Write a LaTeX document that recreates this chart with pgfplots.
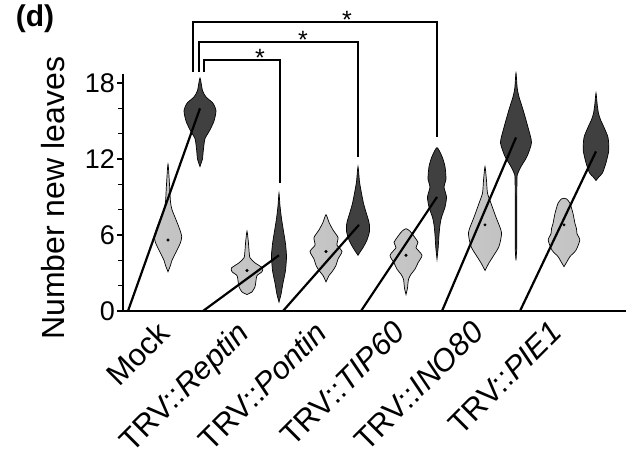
\documentclass[border=0pt]{standalone}
\usepackage{pgfplots}
\pgfplotsset{compat=1.18}
\usepackage{fontspec}
\setmainfont{Liberation Sans}
\newcommand{\fsA}{\fontsize{27}{32}\selectfont}
\newcommand{\fsS}{\fontsize{25}{30}\selectfont}
\newcommand{\fsB}{\fontsize{32}{38}\selectfont}
\newcommand{\fsD}{\fontsize{30}{36}\selectfont}
\newcommand{\fsC}{\fontsize{31}{36}\selectfont}
\begin{document}
\begin{tikzpicture}
\useasboundingbox (-123pt,-143pt) rectangle (503pt,311pt);
\begin{axis}[
  at={(0pt,0pt)}, anchor=south west,
  x=1pt, y=12.667pt,
  xmin=0, xmax=503, ymin=0, ymax=18.7,
  axis lines=left,
  axis line style={line width=1.6pt, -},
  clip=false,
  ytick={0,6,12,18},
  minor ytick={2,4,8,10,14,16},
  ytick align=outside,
  major tick length=6pt, minor tick length=5pt,
  every tick/.style={line width=1.3pt, black},
  yticklabel style={font=\fsA, inner sep=2pt},
  /pgf/number format/assume math mode=true,
  xtick={33,111.5,190,268.5,347,425.5},
  xticklabels={Mock, TRV::\textit{Reptin}, TRV::\textit{Pontin}, TRV::\textit{TIP60}, TRV::\textit{INO80}, TRV::\textit{PIE1}},
  x tick style={draw=none},
  xticklabel style={font=\fsC, rotate=45, anchor=north east, inner sep=0pt},
  xticklabel shift=5pt,
  ylabel={Number new leaves},
  every axis y label/.style={at={(axis cs:-70,8.9)}, rotate=90, anchor=center, font=\fsB},
  light/.style={draw=black, line width=0.7pt, left color=black!22, middle color=white, right color=black!24, smooth, tension=0.4},
  dark/.style={draw=black, line width=0.7pt, left color=black!75, middle color=black!55, right color=black!75, smooth, tension=0.4},
]
% Mock
\addplot[light] coordinates {(45,3.1)(42.5,3.6)(41,4.0)(36,4.8)(32.5,5.4)(31.3,5.9)(34,6.6)(38,7.4)(41,8.0)(42.5,8.6)(43.5,10)(45,11.6)
  (46.5,10)(47.5,8.6)(49,8.0)(52,7.4)(56,6.6)(58.7,5.9)(57.5,5.4)(54,4.8)(49,4.0)(47.5,3.6)} --cycle;
\addplot[dark] coordinates {(77,11.4)(74.5,12.0)(73.5,12.8)(72,13.6)(67,14.3)(63,15.0)(61,15.8)(64,16.4)(71,16.9)(74.5,17.4)(77,18.4)
  (79.5,17.4)(83,16.9)(90,16.4)(93,15.8)(91,15.0)(87,14.3)(82,13.6)(80.5,12.8)(79.5,12.0)} --cycle;
% Reptin
\addplot[light] coordinates {(124,1.3)(119,1.5)(116,1.9)(115,2.4)(114,2.8)(109,3.1)(108.5,3.4)(116,3.8)(121,4.2)(122,4.8)(122.7,5.5)(124,6.3)
  (125.3,5.5)(126,4.8)(127,4.2)(132,3.8)(139.5,3.4)(139,3.1)(134,2.8)(133,2.4)(132,1.9)(129,1.5)} --cycle;
\addplot[dark] coordinates {(156,0.7)(154,1.3)(152,2.2)(149.5,3.2)(148.5,4.3)(149.5,5.3)(151.5,6.3)(153.5,7.3)(155,8.3)(156,9.3)
  (157,8.3)(158.5,7.3)(160.5,6.3)(162.5,5.3)(163.5,4.3)(162.5,3.2)(160,2.2)(158,1.3)} --cycle;
% Pontin
\addplot[light] coordinates {(203,2.3)(200,2.8)(196,3.2)(193,3.6)(191,4.1)(187,4.7)(192,5.2)(191,5.8)(196,6.4)(200,7.0)(203,7.6)
  (206,7.0)(210,6.4)(215,5.8)(214,5.2)(219,4.7)(215,4.1)(213,3.6)(210,3.2)(206,2.8)} --cycle;
\addplot[dark] coordinates {(235,4.4)(230,5.0)(226,5.6)(223.5,6.3)(224,7.0)(227,7.8)(229.5,8.5)(231.5,9.3)(233.5,10.2)(235,11.4)
  (236.5,10.2)(238.5,9.3)(240.5,8.5)(243,7.8)(246,7.0)(246.5,6.3)(244,5.6)(240,5.0)} --cycle;
% TIP60
\addplot[light] coordinates {(283,1.3)(281.5,1.8)(280.5,2.5)(278,2.9)(274,3.3)(271,3.8)(267,4.4)(273,5.0)(271,5.4)(275,5.9)(279,6.3)(283,6.5)
  (287,6.3)(291,5.9)(295,5.4)(293,5.0)(299,4.4)(295,3.8)(292,3.3)(288,2.9)(285.5,2.5)(284.5,1.8)} --cycle;
\addplot[dark] coordinates {(314,4.1)(312.8,5.0)(312,6.0)(311,6.8)(309.5,7.4)(306,8.2)(304.5,9.0)(307,9.8)(305,10.4)(306,11.4)(309,12.2)(314,12.9)
  (319,12.2)(322,11.4)(323,10.4)(321,9.8)(323.5,9.0)(322,8.2)(318.5,7.4)(317,6.8)(316,6.0)(315.2,5.0)} --cycle;
% INO80
\addplot[light] coordinates {(362,3.2)(358,3.8)(354,4.3)(348,5.1)(345.5,6.2)(351,7.4)(356,8.5)(359.5,9.3)(360.5,10.3)(362,11.4)
  (363.5,10.3)(364.5,9.3)(368,8.5)(373,7.4)(378.5,6.2)(376,5.1)(370,4.3)(366,3.8)} --cycle;
\addplot[dark] coordinates {(393,4.0)(392.2,5)(392.2,8)(392,10.5)(391,10.9)(388,11.4)(382,12.2)(377.5,13.3)(381,14.5)(386,15.9)(390,16.9)(391.8,17.6)(393,18.8)
  (394.2,17.6)(396,16.9)(400,15.9)(405,14.5)(408.5,13.3)(404,12.2)(398,11.4)(395,10.9)(394,10.5)(393.8,8)(393.8,5)} --cycle;
% PIE1
\addplot[light] coordinates {(441,3.5)(438,3.9)(435,4.3)(429,4.8)(425.2,5.6)(428,6.1)(428.5,6.5)(430,6.9)(432,7.7)(435,8.5)(438.5,8.85)(441,8.9)
  (443.5,8.85)(447,8.5)(450,7.7)(452,6.9)(453.5,6.5)(454,6.1)(456.8,5.6)(453,4.8)(447,4.3)(444,3.9)} --cycle;
\addplot[dark] coordinates {(473,10.3)(470,10.6)(466.5,10.9)(463,11.7)(460.2,12.7)(461,13.7)(465,14.5)(468.5,15.1)(470.5,15.6)(471.8,16.3)(473,17.2)
  (474.2,16.3)(475.5,15.6)(477.5,15.1)(481,14.5)(485,13.7)(485.8,12.7)(483,11.7)(479.5,10.9)(476,10.6)} --cycle;
% medians of light violins
\addplot[only marks, mark=*, mark size=1.3pt, black] coordinates {(45,5.6)(124,3.2)(203,4.7)(283,4.4)(362,6.8)(441,6.8)};
% slope lines
\addplot[black, line width=2.2pt] coordinates {(5,0)(77,16.0)};
\addplot[black, line width=2.2pt] coordinates {(80,0)(156,4.4)};
\addplot[black, line width=2.2pt] coordinates {(160,0)(236,6.8)};
\addplot[black, line width=2.2pt] coordinates {(238,0)(314,9.0)};
\addplot[black, line width=2.2pt] coordinates {(319,0)(393,13.7)};
\addplot[black, line width=2.2pt] coordinates {(397,0)(473,12.6)};
% significance brackets
\addplot[black, line width=2.2pt] coordinates {(70,18.87)(70,22.82)(314,22.82)(314,13.74)};
\addplot[black, line width=2.2pt] coordinates {(76,18.87)(76,21.24)(235,21.24)(235,12.16)};
\addplot[black, line width=2.2pt] coordinates {(81,18.87)(81,19.82)(157,19.82)(157,10.11)};
\node[anchor=base, font=\fsS, inner sep=0pt] at (axis cs:224,22.31) {*};
\node[anchor=base, font=\fsS, inner sep=0pt] at (axis cs:180,20.73) {*};
\node[anchor=base, font=\fsS, inner sep=0pt] at (axis cs:137,19.31) {*};
\node[font=\bfseries\fsD, anchor=center] at (axis cs:-88,23.1) {(d)};
\end{axis}
\end{tikzpicture}
\end{document}
